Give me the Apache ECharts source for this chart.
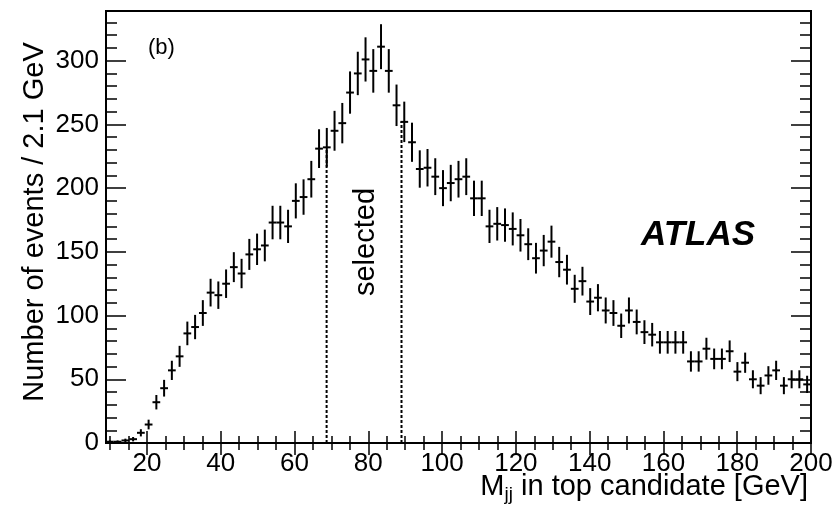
<!DOCTYPE html>
<html><head><meta charset="utf-8">
<script src="https://cdn.jsdelivr.net/npm/echarts@6/dist/echarts.min.js"></script>
<style>html,body{margin:0;padding:0;background:#fff}#c{width:839px;height:509px}</style>
</head><body><div id="c"></div>
<script>
// ---- data ----
const binLow = 8.9;      // GeV, lower edge of first bin
const binWidth = 2.1;    // GeV per bin
const counts = [
  1, 1, 2, 3, 8, 14.5, 32, 43, 57, 68,
  86, 91, 102, 118, 116, 125, 138, 133, 148, 152,
  155, 173, 173, 170, 190, 193, 207, 231, 232, 245,
  251, 275, 290, 301, 292, 311, 292, 265, 252, 236,
  215, 216, 209, 200, 204, 207, 209, 192, 192, 170,
  172, 171, 168, 163, 156, 145, 151, 158, 142, 136,
  121, 127, 111, 114, 104, 102, 92, 104, 95, 87,
  85, 79, 79, 79, 79, 64, 64, 74, 66, 66,
  72, 56, 63, 50, 45, 53, 57, 45, 50, 50,
  46
];
const xRange = [8.9, 200];
const yRange = [0, 339];
const xMajorTicks = [20, 40, 60, 80, 100, 120, 140, 160, 180, 200];
const xMinorTicks = [10, 15, 25, 30, 35, 45, 50, 55, 65, 70, 75, 85, 90, 95, 105, 110, 115, 125, 130, 135, 145, 150, 155, 165, 170, 175, 185, 190, 195];
const yMajorTicks = [0, 50, 100, 150, 200, 250, 300];
const yMinorTicks = [10, 20, 30, 40, 60, 70, 80, 90, 110, 120, 130, 140, 160, 170, 180, 190, 210, 220, 230, 240, 260, 270, 280, 290, 310, 320, 330];
const selectionCuts = [68.7, 89.0];

// ---- build ----
const FONT = "'Liberation Sans', Arial, Helvetica, sans-serif";
const histData = counts.map((c, i) => [binLow + binWidth * (i + 0.5), c, Math.sqrt(c)]);
function countAt(x) { return counts[Math.floor((x - binLow) / binWidth)]; }

function xAxisDef(pos, ticks, len, labels) {
  return {
    type: 'value', position: pos, min: xRange[0], max: xRange[1],
    axisLine: { show: false }, splitLine: { show: false },
    axisTick: { show: true, inside: true, length: len, customValues: ticks, lineStyle: { color: '#000', width: 1.5 } },
    axisLabel: labels ? { show: true, customValues: ticks, color: '#000', fontFamily: FONT, fontSize: 26, margin: 8 } : { show: false }
  };
}
function yAxisDef(pos, ticks, len, labels) {
  return {
    type: 'value', position: pos, min: yRange[0], max: yRange[1],
    axisLine: { show: false }, splitLine: { show: false },
    axisTick: { show: true, inside: true, length: len, customValues: ticks, lineStyle: { color: '#000', width: 1.5 } },
    axisLabel: labels ? { show: true, customValues: ticks, color: '#000', fontFamily: FONT, fontSize: 26, margin: 7 } : { show: false }
  };
}

const series = [{
  type: 'custom', xAxisIndex: 0, yAxisIndex: 0, clip: true,
  data: histData,
  renderItem: function (params, api) {
    const x = api.value(0), y = api.value(1), e = api.value(2);
    const lo = api.coord([x, Math.max(y - e, 0)]);
    const hi = api.coord([x, y + e]);
    const l = api.coord([x - binWidth / 2, y]);
    const r = api.coord([x + binWidth / 2, y]);
    return { type: 'group', children: [
      { type: 'line', shape: { x1: lo[0], y1: lo[1], x2: hi[0], y2: hi[1] }, style: { stroke: '#000', lineWidth: 2 } },
      { type: 'line', shape: { x1: l[0], y1: l[1], x2: r[0], y2: r[1] }, style: { stroke: '#000', lineWidth: 2 } }
    ] };
  }
}];
selectionCuts.forEach(cx => {
  series.push({
    type: 'line', xAxisIndex: 0, yAxisIndex: 0, symbol: 'none', silent: true,
    data: [[cx, 0], [cx, countAt(cx)]],
    lineStyle: { color: '#000', width: 2, type: [3, 2] }
  });
});

const chart = echarts.init(document.getElementById('c'), null, { renderer: 'canvas' });
chart.setOption({
  animation: false,
  backgroundColor: '#fff',
  grid: { left: 106, right: 28, top: 11, bottom: 66, show: true, borderColor: '#000', borderWidth: 2, backgroundColor: 'transparent' },
  xAxis: [
    xAxisDef('bottom', xMajorTicks, 12, true),
    xAxisDef('bottom', xMinorTicks, 7, false),
    xAxisDef('top', xMajorTicks, 12, false),
    xAxisDef('top', xMinorTicks, 7, false)
  ],
  yAxis: [
    yAxisDef('left', yMajorTicks, 20, true),
    yAxisDef('left', yMinorTicks, 11, false),
    yAxisDef('right', yMajorTicks, 20, false),
    yAxisDef('right', yMinorTicks, 11, false)
  ],
  series: series,
  graphic: [
    { type: 'text', x: 35, y: 222, rotation: Math.PI / 2,
      style: { text: 'Number of events / 2.1 GeV', font: '29px ' + FONT, fill: '#000', align: 'center', verticalAlign: 'middle' } },
    { type: 'text', x: 808, y: 487,
      style: { text: '{m|M}{s|jj}{m| in top candidate [GeV]}', align: 'right', verticalAlign: 'middle', fill: '#000',
        rich: { m: { fontFamily: FONT, fontSize: 29, fill: '#000' }, s: { fontFamily: FONT, fontSize: 19, padding: [16, 0, 0, 0], fill: '#000' } } } },
    { type: 'text', x: 148, y: 48,
      style: { text: '(b)', font: '22px ' + FONT, fill: '#000', align: 'left', verticalAlign: 'middle' } },
    { type: 'text', x: 641, y: 235,
      style: { text: 'ATLAS', font: 'italic bold 35px ' + FONT, fill: '#000', align: 'left', verticalAlign: 'middle' } },
    { type: 'text', x: 366, y: 242, rotation: Math.PI / 2,
      style: { text: 'selected', font: '29px ' + FONT, fill: '#000', align: 'center', verticalAlign: 'middle' } }
  ]
});
</script></body></html>
